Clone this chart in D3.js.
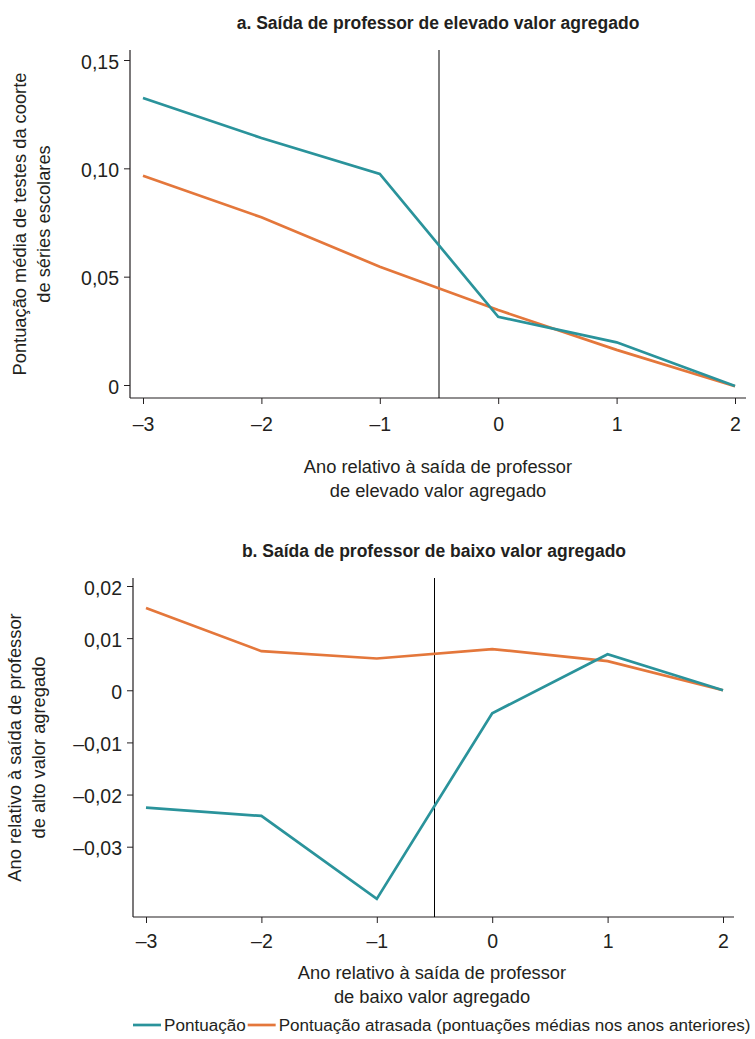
<!DOCTYPE html>
<html>
<head>
<meta charset="utf-8">
<script src="https://cdn.jsdelivr.net/npm/d3@7"></script>
<style>
  body { margin: 0; background: #fff; }
  svg text { font-family: "Liberation Sans", Arial, sans-serif; fill: #231f20; }
  .axis path, .axis line { stroke: #231f20; }
</style>
</head>
<body>
<div id="chart"></div>
<script>
// years relative to the teacher's exit
const years = [-3, -2, -1, 0, 1, 2];
const cutoff = -0.5;

// panel a: high value-added exit
const scoreHigh = [0.1325, 0.114, 0.0974, 0.0315, 0.0197, -0.0005];
const laggedHigh = [0.0966, 0.0774, 0.0546, 0.0346, 0.0162, -0.0006];
const yTicksHigh = [0, 0.05, 0.1, 0.15];
const yLabelsHigh = ["0", "0,05", "0,10", "0,15"];

// panel b: low value-added exit
const scoreLow = [-0.0225, -0.0241, -0.04, -0.0044, 0.0069, 0];
const laggedLow = [0.0158, 0.0075, 0.0061, 0.0079, 0.0056, 0];
const yTicksLow = [-0.03, -0.02, -0.01, 0, 0.01, 0.02];
const yLabelsLow = ["\u20130,03", "\u20130,02", "\u20130,01", "0", "0,01", "0,02"];

const xLabels = ["\u20133", "\u20132", "\u20131", "0", "1", "2"];
const seriesNames = ["Pontuação", "Pontuação atrasada (pontuações médias nos anos anteriores)"];
const colors = ["#2a939b", "#e4773b"];

const W = 755, H = 1039;

const svg = d3.select("#chart").append("svg")
  .attr("width", W)
  .attr("height", H);

function drawPanel(cfg) {
  const g = svg.append("g");

  const x = d3.scaleLinear().domain([-3, 2]).range([cfg.left + 13, cfg.right - 11]);
  const y = d3.scaleLinear().domain(cfg.yDomain).range(cfg.yRange);

  // title
  g.append("text")
    .attr("x", cfg.titleX)
    .attr("y", cfg.titleY)
    .attr("text-anchor", "middle")
    .attr("font-size", "17.5px")
    .attr("font-weight", "bold")
    .text(cfg.title);

  // x axis
  const xAxis = d3.axisBottom(x)
    .tickValues(years)
    .tickFormat((d, i) => xLabels[i])
    .tickSize(6)
    .tickSizeOuter(0)
    .tickPadding(cfg.xPad);
  const gx = g.append("g")
    .attr("class", "axis")
    .attr("transform", "translate(0," + cfg.bottom + ")")
    .call(xAxis);
  gx.select(".domain").remove();
  gx.append("line")
    .attr("x1", cfg.left).attr("x2", cfg.right)
    .attr("y1", 0).attr("y2", 0)
    .attr("stroke", "#231f20").attr("stroke-width", 1.2);
  gx.selectAll("text").attr("font-size", "19.5px").attr("fill", "#231f20");

  // y axis
  const yAxis = d3.axisLeft(y)
    .tickValues(cfg.yTicks)
    .tickFormat((d, i) => cfg.yLabels[i])
    .tickSize(6)
    .tickSizeOuter(0)
    .tickPadding(5);
  const gy = g.append("g")
    .attr("class", "axis")
    .attr("transform", "translate(" + cfg.left + ",0)")
    .call(yAxis);
  gy.select(".domain").remove();
  gy.append("line")
    .attr("x1", 0).attr("x2", 0)
    .attr("y1", cfg.top).attr("y2", cfg.bottom)
    .attr("stroke", "#231f20").attr("stroke-width", 1.2);
  gy.selectAll("text")
    .attr("font-size", "19.5px")
    .attr("dy", "0.42em")
    .attr("fill", "#231f20");

  // exit marker
  g.append("line")
    .attr("x1", x(cutoff)).attr("x2", x(cutoff))
    .attr("y1", cfg.top).attr("y2", cfg.bottom)
    .attr("stroke", "#000")
    .attr("stroke-width", 1);

  const line = d3.line()
    .x((d, i) => x(years[i]))
    .y(d => y(d));

  [cfg.lagged, cfg.score].forEach(function (s, k) {
    g.append("path")
      .attr("d", line(s))
      .attr("fill", "none")
      .attr("stroke", k === 0 ? colors[1] : colors[0])
      .attr("stroke-width", 2.7);
  });

  // axis titles
  const xt = g.append("text")
    .attr("text-anchor", "middle")
    .attr("font-size", "18.3px");
  cfg.xTitle.forEach(function (t, i) {
    xt.append("tspan")
      .attr("x", cfg.xTitleX)
      .attr("y", cfg.xTitleY + i * 24)
      .text(t);
  });

  const cy = (cfg.top + cfg.bottom) / 2;
  const yt = g.append("text")
    .attr("text-anchor", "middle")
    .attr("font-size", "18.3px")
    .attr("transform", "translate(" + cfg.yTitleX + "," + cy + ") rotate(-90)");
  cfg.yTitle.forEach(function (t, i) {
    yt.append("tspan")
      .attr("x", 0)
      .attr("y", i * 24)
      .text(t);
  });
}

drawPanel({
  title: "a. Saída de professor de elevado valor agregado",
  titleX: 438, titleY: 29,
  left: 130, right: 746, top: 50, bottom: 398,
  xPad: 13,
  yDomain: [0, 0.15], yRange: [385, 60],
  yTicks: yTicksHigh, yLabels: yLabelsHigh,
  score: scoreHigh, lagged: laggedHigh,
  xTitle: ["Ano relativo à saída de professor", "de elevado valor agregado"],
  xTitleX: 438, xTitleY: 473,
  yTitle: ["Pontuação média de testes da coorte", "de séries escolares"],
  yTitleX: 26
});

drawPanel({
  title: "b. Saída de professor de baixo valor agregado",
  titleX: 434, titleY: 557,
  left: 133, right: 734, top: 578, bottom: 917,
  xPad: 11,
  yDomain: [-0.03, 0.02], yRange: [846.7, 586],
  yTicks: yTicksLow, yLabels: yLabelsLow,
  score: scoreLow, lagged: laggedLow,
  xTitle: ["Ano relativo à saída de professor", "de baixo valor agregado"],
  xTitleX: 432, xTitleY: 979,
  yTitle: ["Ano relativo à saída de professor", "de alto valor agregado"],
  yTitleX: 21
});

// legend: shrink the font so the whole row fits inside the page
const legendX = 133, swatch = 28, gap = 3;
const legend = svg.append("g").attr("transform", "translate(" + legendX + ",1025)");
const labels = seriesNames.map(function (name) {
  return legend.append("text").attr("font-size", "18px").attr("y", 6).text(name);
});
const natural = d3.sum(labels, t => t.node().getComputedTextLength());
const room = W - 4 - legendX - seriesNames.length * (swatch + gap) - 2;
const fs = Math.min(18, 18 * room / natural);
let lx = 0;
labels.forEach(function (t, i) {
  t.attr("font-size", fs + "px");
  legend.append("line")
    .attr("x1", lx).attr("x2", lx + swatch)
    .attr("y1", 0).attr("y2", 0)
    .attr("stroke", colors[i])
    .attr("stroke-width", 2.7);
  t.attr("x", lx + swatch + gap);
  lx += swatch + gap + t.node().getComputedTextLength() + 2;
});
</script>
</body>
</html>
